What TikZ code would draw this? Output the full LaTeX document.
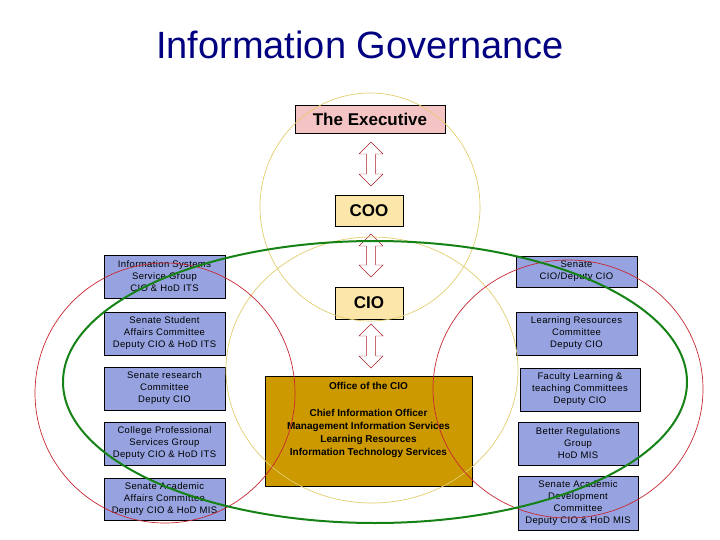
\documentclass[tikz,border=0pt]{standalone}
\usepackage{fontspec}
\setmainfont{Liberation Sans}
\usetikzlibrary{shapes.arrows}
\definecolor{titleblue}{RGB}{0,0,128}
\definecolor{bluebox}{RGB}{150,163,224}
\definecolor{tanbox}{RGB}{252,230,170}
\definecolor{pinkbox}{RGB}{244,196,196}
\definecolor{office}{RGB}{204,153,0}
\definecolor{ringyellow}{RGB}{225,205,110}
\definecolor{ringred}{RGB}{200,40,50}
\definecolor{ringgreen}{RGB}{20,130,20}
\definecolor{arrowred}{RGB}{170,30,40}
\tikzset{
  sbox/.style={draw=black, fill=bluebox, align=center, font=\fontsize{9.5}{12}\selectfont\addfontfeature{LetterSpace=4}, inner sep=0pt},
  tbox/.style={draw=black, fill=tanbox, font=\fontsize{17}{18}\selectfont\bfseries, inner sep=0pt},
  darr/.style={double arrow, draw=arrowred, fill=white, minimum width=24pt, double arrow head extend=5pt, inner sep=3pt, shape border rotate=90},
}
\begin{document}
\begin{tikzpicture}[x=1pt,y=-1pt]
\useasboundingbox (0,0) rectangle (720,540);
\node (title) [text=titleblue, font=\fontsize{38}{40}\selectfont] at (360,45) {Information Governance};
\node (exec) [draw=black, fill=pinkbox, font=\fontsize{17}{18}\selectfont\bfseries, minimum width=150pt, minimum height=28pt, inner sep=0pt] at (370,119) {The Executive};
\node (coo) [tbox, minimum width=68pt, minimum height=31pt] at (369,210.5) {COO};
\node (cio) [tbox, minimum width=68pt, minimum height=32pt] at (369,303) {CIO};
\node (off) [draw=black, fill=office, minimum width=207pt, minimum height=110pt, inner sep=0pt] at (368.5,431) {};
\node (offtxt) [anchor=north, align=center, font=\fontsize{10}{13}\selectfont\bfseries] at (off.north) {\rule{0pt}{10pt}Office of the CIO\\[1pt]\\Chief Information Officer\\Management Information Services\\Learning Resources\\Information Technology Services};
\node (a1) [darr, minimum height=44pt] at (371,164) {};
\node (a2) [darr, minimum height=43pt] at (371,255.5) {};
\node (a3) [darr, minimum height=44pt] at (371,346) {};
\node (l1) [sbox, minimum width=121pt, minimum height=43pt] at (164.5,276.5) {Information Systems\\Service Group\\CIO \& HoD ITS};
\node (l2) [sbox, minimum width=121pt, minimum height=43pt] at (164.5,333.5) {Senate Student\\Affairs Committee\\Deputy CIO \& HoD ITS};
\node (l3) [sbox, minimum width=121pt, minimum height=43pt] at (164.5,388.5) {Senate research\\Committee\\Deputy CIO};
\node (l4) [sbox, minimum width=121pt, minimum height=43pt] at (164.5,443.5) {College Professional\\Services Group\\Deputy CIO \& HoD ITS};
\node (l5) [sbox, minimum width=121pt, minimum height=42pt] at (164.5,499) {Senate Academic\\Affairs Committee\\Deputy CIO \& HoD MIS};
\node (r1) [sbox, minimum width=121pt, minimum height=31pt] at (576.5,271.5) {Senate\\CIO/Deputy CIO};
\node (r2) [sbox, minimum width=121pt, minimum height=43pt] at (576.5,333.5) {Learning Resources\\Committee\\Deputy CIO};
\node (r3) [sbox, minimum width=120pt, minimum height=43pt] at (580,389.5) {Faculty Learning \&\\teaching Committees\\Deputy CIO};
\node (r4) [sbox, minimum width=120pt, minimum height=43pt] at (578,443.5) {Better Regulations\\Group\\HoD MIS};
\node (r5) [sbox, minimum width=120pt, minimum height=54pt] at (578,503) {Senate Academic\\Development\\Committee\\Deputy CIO \& HoD MIS};
\draw[ringyellow, line width=0.7pt] (370,207) ellipse [x radius=110, y radius=114];
\draw[ringyellow, line width=0.7pt] (372,370) ellipse [x radius=146, y radius=133];
\draw[ringred, line width=0.7pt] (165,393) ellipse [x radius=130, y radius=130];
\draw[ringred, line width=0.7pt] (568,389) ellipse [x radius=135, y radius=129];
\draw[ringgreen, line width=2pt] (375,382) ellipse [x radius=312, y radius=141];
\end{tikzpicture}
\end{document}
